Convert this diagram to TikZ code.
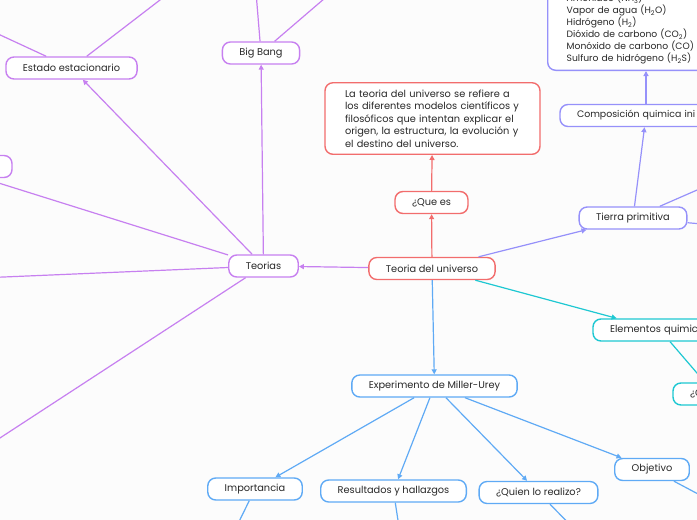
\documentclass[tikz,border=0pt]{standalone}
\usepackage{fontspec}
\setmainfont{Poppins}
\usetikzlibrary{arrows.meta,positioning}
\definecolor{rojo}{RGB}{242,109,109}
\definecolor{morado}{RGB}{199,128,240}
\definecolor{lila}{RGB}{150,145,250}
\definecolor{turquesa}{RGB}{30,200,210}
\definecolor{azul}{RGB}{95,170,245}
\definecolor{texto}{RGB}{40,40,40}
\tikzset{
  idea/.style={rectangle, rounded corners=8pt, draw, line width=1.4pt, fill=white, minimum height=22pt, inner xsep=17pt, inner ysep=2pt, font=\fontsize{9.8}{11}\selectfont, text=texto},
  ideacorte/.style={idea, text width=#1, align=left},
  enlace/.style={line width=1.2pt, -{Triangle[length=5pt,width=5pt]}},
  linea/.style={line width=1.2pt}
}

\begin{document}
\begin{tikzpicture}[x=1pt,y=-1pt]
\useasboundingbox (0,0) rectangle (697,520);
\fill[white!99!black] (0,0) rectangle (697,520);
\clip (0,0) rectangle (697,520);

\node[idea, draw=rojo] at (432,268.5) (teoria) {Teoria del universo};
\node[idea, draw=rojo] at (431.5,202.5) (quees) {¿Que es};
\node[idea, draw=rojo, text width=175pt, align=left, inner xsep=20pt, inner ysep=7pt, font=\fontsize{9.8}{12.5}\selectfont] at (432.5,118.5) (def) {La teoria del universo se refiere a\\los diferentes modelos científicos y\\filosóficos que intentan explicar el\\origen, la estructura, la evolución y\\el destino del universo.};
\draw[enlace, rojo] (teoria) -- (quees);
\draw[enlace, rojo] (quees) -- (def);

\node[idea, draw=morado] at (263.5,266) (teorias) {Teorias};
\node[idea, draw=morado] at (261,53) (bigbang) {Big Bang};
\node[idea, draw=morado] at (71.5,68) (estado) {Estado estacionario};
\node[idea, draw=morado, minimum width=132pt] at (-54,166.5) (otra) {};
\coordinate (e1) at (-30,21);
\coordinate (e2) at (186,-20);
\coordinate (b1) at (255,-20);
\coordinate (b2) at (346,-20);
\coordinate (t2) at (-20,278);
\coordinate (t3) at (-20,451);
\draw[enlace, morado] (teoria) -- (teorias);
\draw[enlace, morado] (teorias) -- (bigbang);
\draw[enlace, morado] (teorias) -- (estado);
\draw[enlace, morado] (teorias) -- (otra);
\draw[linea, morado] (teorias) -- (t2);
\draw[linea, morado] (teorias) -- (t3);
\draw[linea, morado] (estado) -- (e1);
\draw[linea, morado] (estado) -- (e2);
\draw[linea, morado] (bigbang) -- (b1);
\draw[linea, morado] (bigbang) -- (b2);

\node[idea, draw=lila] at (633,218) (tierra) {Tierra primitiva};
\node[ideacorte=138pt, draw=lila, font=\fontsize{9.4}{11}\selectfont] at (646,115.5) (comp) {Composición quimica ini};
\node[idea, draw=lila, text width=180pt, align=left, inner xsep=19pt, inner ysep=6pt, anchor=south west, font=\fontsize{9.2}{12}\selectfont] at (547,71) (lista) {Amoniaco (NH\textsubscript{3})\\Vapor de agua (H\textsubscript{2}O)\\Hidrógeno (H\textsubscript{2})\\Dióxido de carbono (CO\textsubscript{2})\\Monóxido de carbono (CO)\\Sulfuro de hidrógeno (H\textsubscript{2}S)};
\coordinate (r1) at (720,180);
\coordinate (r2) at (760,229);
\draw[enlace, lila] (teoria) -- (tierra);
\draw[enlace, lila] (tierra) -- (comp);
\draw[enlace, lila] (comp) -- (comp |- lista.south);
\draw[linea, lila] (tierra) -- (r1);
\draw[linea, lila] (tierra) -- (r2);

\node[ideacorte=100pt, draw=turquesa] at (660,330) (elem) {Elementos quimic};
\node[ideacorte=50pt, draw=turquesa] at (715,394) (cq) {¿C};
\draw[enlace, turquesa] (teoria) -- (elem);
\draw[enlace, turquesa] (elem) -- (cq);

\node[idea, draw=azul] at (434.5,386) (exp) {Experimento de Miller-Urey};
\node[idea, draw=azul] at (255,489) (imp) {Importancia};
\node[idea, draw=azul] at (393.5,491) (res) {Resultados y hallazgos};
\node[idea, draw=azul] at (538.5,492.5) (quien) {¿Quien lo realizo?};
\node[idea, draw=azul] at (652,469.5) (obj) {Objetivo};
\coordinate (i1) at (230,540);
\coordinate (s1) at (401,540);
\coordinate (q1) at (590,545);
\coordinate (o1) at (730,511);
\draw[enlace, azul] (teoria) -- (exp);
\draw[enlace, azul] (exp) -- (imp);
\draw[enlace, azul] (exp) -- (res);
\draw[enlace, azul] (exp) -- (quien);
\draw[enlace, azul] (exp) -- (obj);
\draw[linea, azul] (imp) -- (i1);
\draw[linea, azul] (res) -- (s1);
\draw[linea, azul] (quien) -- (q1);
\draw[linea, azul] (obj) -- (o1);
\end{tikzpicture}
\end{document}
